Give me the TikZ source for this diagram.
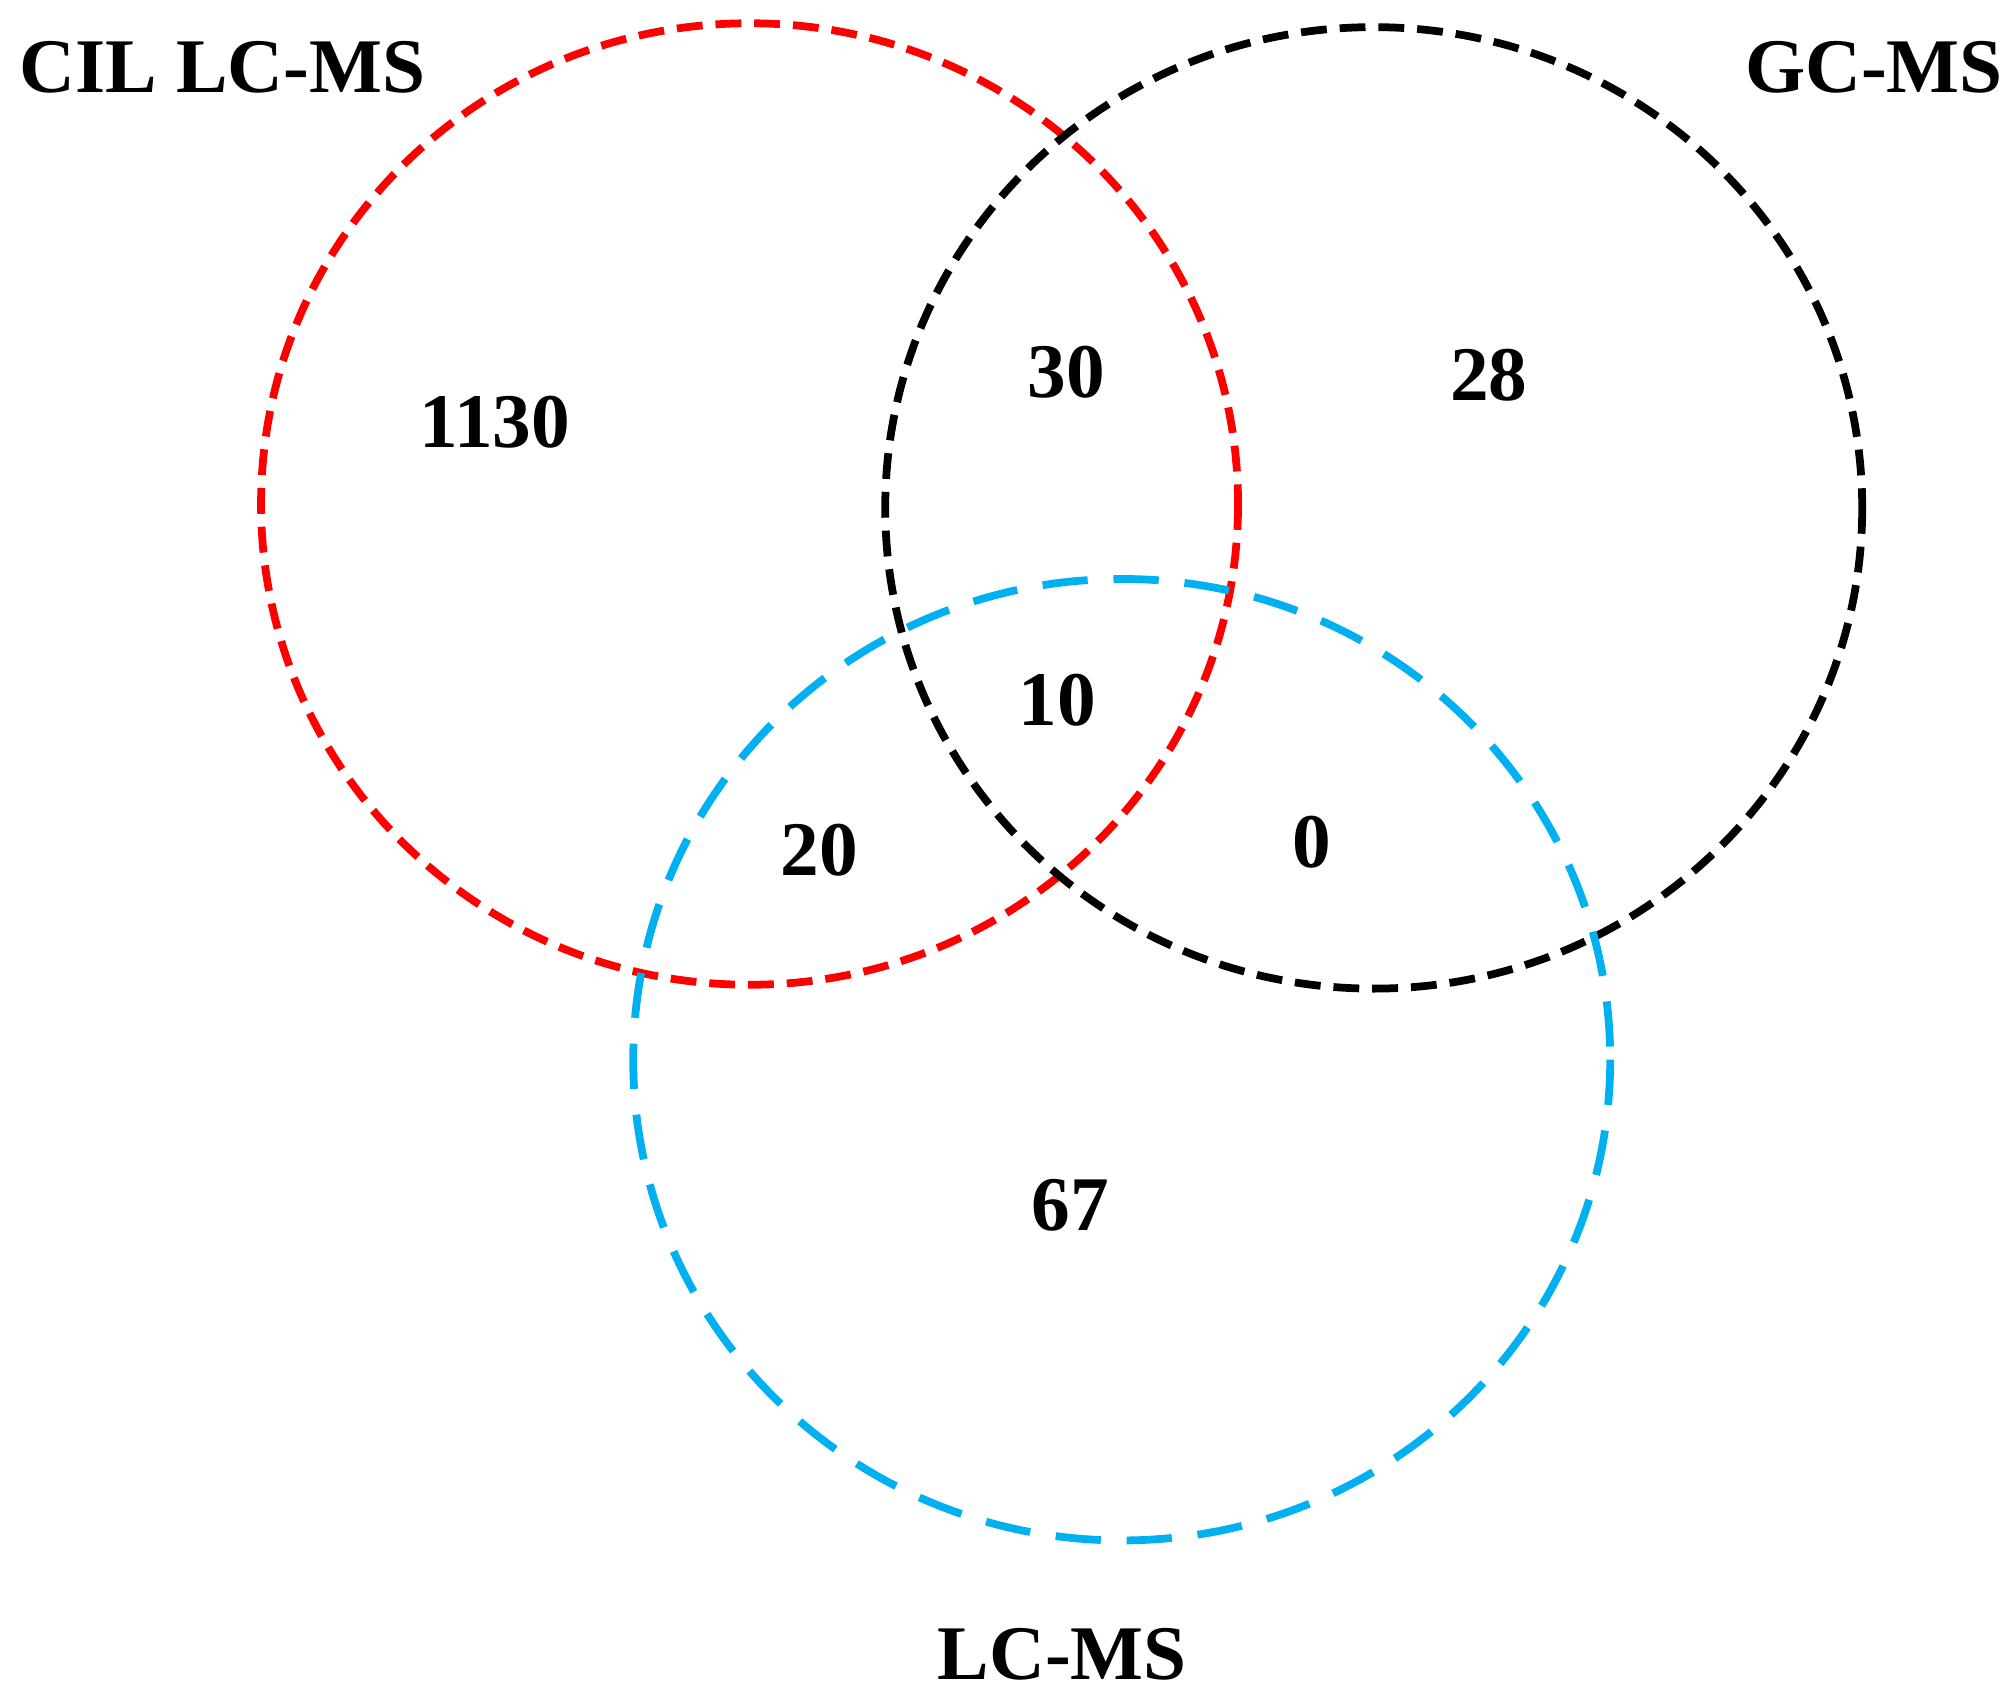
\documentclass[tikz,border=0pt]{standalone}
\usepackage{fontspec}
\setmainfont{Liberation Serif}
\definecolor{skyc}{RGB}{0,176,240}
\begin{document}
\begin{tikzpicture}[x=0.01cm,y=-0.01cm,
  lab/.style={font=\fontsize{17}{20}\selectfont\bfseries},
  ring/.style={line width=0.06cm}]
\useasboundingbox (0,0) rectangle (1560,1315);
\draw[ring,red,dash pattern=on 0.2cm off 0.1cm] (580,390) ellipse [x radius=378,y radius=372];
\draw[ring,black,dash pattern=on 0.2cm off 0.1cm] (1063,393) ellipse [x radius=378,y radius=372];
\draw[ring,skyc,dash pattern=on 0.35cm off 0.2cm] (868,820) ellipse [x radius=378,y radius=372];
\node[lab] (a) at (172,52) {CIL LC-MS};
\node[lab] (b) at (1450,52) {GC-MS};
\node[lab] (c) at (822,1280) {LC-MS};
\node[lab] (n1) at (383,327) {1130};
\node[lab] (n2) at (825,288) {30};
\node[lab] (n3) at (1152,290) {28};
\node[lab] (n4) at (818,542) {10};
\node[lab] (n5) at (634,658) {20};
\node[lab] (n6) at (1015,652) {0};
\node[lab] (n7) at (828,933) {67};
\end{tikzpicture}
\end{document}
